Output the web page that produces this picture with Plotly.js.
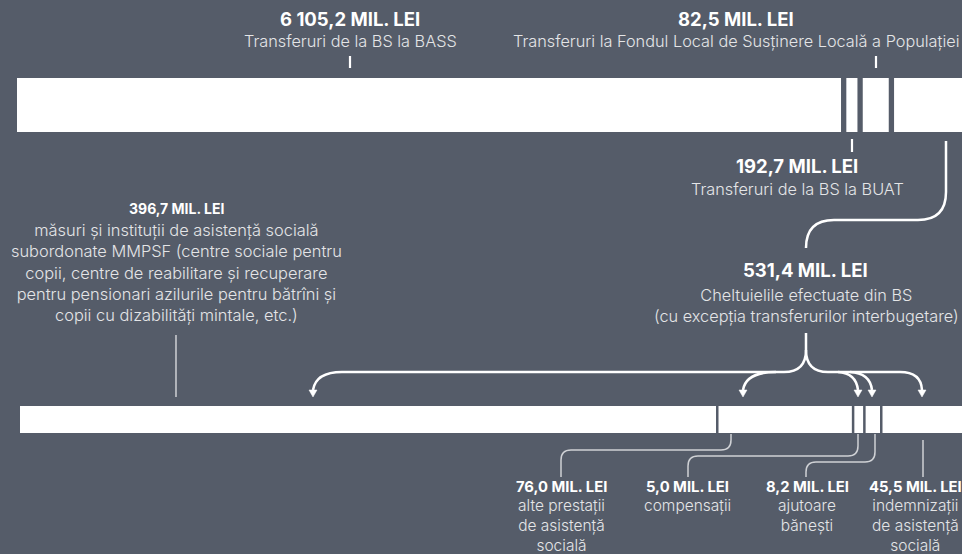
<!DOCTYPE html>
<html><head><meta charset="utf-8">
<script src="https://cdn.plot.ly/plotly-3.0.1.min.js"></script>
<style>html,body{margin:0;padding:0;background:#555c69;}#chart{width:962px;height:554px;}</style>
</head><body><div id="chart"></div>
<script>
// ---- data ----
const topCategories = ['Transferuri de la BS la BASS', 'Transferuri la Fondul Local de Susținere Locală a Populației', 'Transferuri de la BS la BUAT', 'Cheltuielile efectuate din BS'];
const topValues = [6105.2, 82.5, 192.7, 531.4];
const bottomCategories = ['măsuri și instituții de asistență socială', 'alte prestații de asistență socială', 'compensații', 'ajutoare bănești', 'indemnizații de asistență socială'];
const bottomValues = [396.7, 76.0, 5.0, 8.2, 45.5];
const bottomLabelLines = [
  'măsuri și instituții de asistență socială<br>subordonate MMPSF (centre sociale pentru<br>copii, centre de reabilitare și recuperare<br>pentru pensionari azilurile pentru bătrîni și<br>copii cu dizabilități mintale, etc.)',
  'alte prestații<br>de asistență<br>socială',
  'compensații',
  'ajutoare<br>bănești',
  'indemnizații<br>de asistență<br>socială'
];

// ---- style / layout constants ----
const W = 962, H = 554;
const BG = '#555c69';
const TXT = '#e4e5e7';
const LINE = '#cfd1d5';
const TOP_PX_PER_UNIT = 0.13497, TOP_START = 17, TOP_GAP_PX = 5.3;
const BOT_PX_PER_UNIT = 1.7545, BOT_START = 20, BOT_GAP_PX = 2.5;

function fmt(v) {
  const parts = v.toFixed(1).split('.');
  const int = parts[0].replace(/\B(?=(\d{3})+(?!\d))/g, ' ');
  return int + ',' + parts[1] + ' MIL. LEI';
}
function px(x) { return x / W; }
function py(y) { return 1 - y / H; }
function path(cmds) {
  return cmds.map(c => c[0] + ' ' + c.slice(1).reduce((a, v, i) => {
    if (i % 2 === 0) a.push(px(v).toFixed(5)); else a[a.length - 1] += ',' + py(v).toFixed(5);
    return a;
  }, []).join(' ')).join(' ');
}

// ---- bar traces ----
const traces = [];
function addBar(values, cats, xa, ya, gapUnits) {
  let base = 0;
  values.forEach((v, i) => {
    traces.push({
      type: 'bar', orientation: 'h', x: [v], base: [base], y: [0], width: [1],
      xaxis: xa, yaxis: ya, name: cats[i],
      marker: { color: '#ffffff', line: { width: 0 } },
      hoverinfo: 'skip', showlegend: false
    });
    base += v + gapUnits;
  });
}
addBar(topValues, topCategories, 'x', 'y', TOP_GAP_PX / TOP_PX_PER_UNIT);
addBar(bottomValues, bottomCategories, 'x2', 'y2', BOT_GAP_PX / BOT_PX_PER_UNIT);

// ---- annotations ----
const ann = [];
const FAM = 'Inter, Roboto, sans-serif';
function bold(text, x, y, size) {
  ann.push({ text: text, x: px(x), y: py(y), xref: 'paper', yref: 'paper', showarrow: false,
    xanchor: 'center', yanchor: 'middle', borderpad: 0, font: { family: FAM, size: size, color: '#ffffff', weight: 700 } });
}
function reg(text, x, y, size) {
  ann.push({ text: text, x: px(x), y: py(y), xref: 'paper', yref: 'paper', showarrow: false,
    xanchor: 'center', yanchor: 'middle', align: 'center', borderpad: 0,
    font: { family: FAM, size: size, color: TXT, weight: 300 } });
}
bold(fmt(topValues[0]), 350, 19, 18.5);
reg(topCategories[0], 350, 41, 16.3);
bold(fmt(topValues[1]), 736, 19, 18.5);
reg(topCategories[1], 736, 41, 16.3);
bold(fmt(topValues[2]), 797, 166, 18.5);
reg(topCategories[2], 797, 189, 16.3);
bold(fmt(topValues[3]), 805, 270, 18.5);
reg(topCategories[3] + '<br>(cu excepția transferurilor interbugetare)', 806, 305.5, 16.3);

bold(fmt(bottomValues[0]), 176, 208, 14);
reg(bottomLabelLines[0], 176, 272, 16.4);
const botX = [null, 561, 687, 807, 915];
const botLines = [null, 3, 1, 2, 3];
for (let i = 1; i < 5; i++) {
  bold(fmt(bottomValues[i]), botX[i], 487, 14.8);
  // first line centred near y=505, ~20px line spacing
  reg(bottomLabelLines[i], botX[i], 505 + (botLines[i] - 1) * 10, 15.5);
}

// ---- shapes ----
const shapes = [];
function line(d, color, w) {
  shapes.push({ type: 'path', xref: 'paper', yref: 'paper', path: d, line: { color: color, width: w } });
}
function arrowHead(x, y) {
  shapes.push({ type: 'path', xref: 'paper', yref: 'paper',
    path: path([['M', x - 4, y - 7], ['L', x + 4, y - 7], ['L', x, y], ['Z']]),
    fillcolor: '#ffffff', line: { color: '#ffffff', width: 0.5 } });
}
// tick marks near top bar
line(path([['M', 350, 56], ['L', 350, 68]]), '#ffffff', 2.2);
line(path([['M', 876, 56], ['L', 876, 68]]), '#ffffff', 2.2);
line(path([['M', 852, 139], ['L', 852, 152]]), '#ffffff', 2.2);
// S-curve to 531,4
line(path([['M', 946, 141], ['L', 946, 192], ['Q', 946, 220, 918, 220], ['L', 834, 220], ['Q', 806, 220, 806, 248]]), '#ffffff', 2.5);
// brace
line(path([['M', 806, 333], ['L', 806, 350], ['Q', 806, 372, 784, 372], ['L', 342, 372], ['Q', 316, 372, 313, 390]]), '#ffffff', 2.5);
line(path([['M', 806, 350], ['Q', 806, 372, 828, 372], ['L', 900, 372], ['Q', 921, 372, 922, 390]]), '#ffffff', 2.5);
line(path([['M', 776, 372], ['Q', 746, 372, 743, 390]]), '#ffffff', 2.5);
line(path([['M', 838, 372], ['Q', 856, 373, 858, 390]]), '#ffffff', 2.5);
line(path([['M', 850, 372], ['Q', 870, 373, 872, 390]]), '#ffffff', 2.5);
[313, 743, 858, 872, 922].forEach(x => arrowHead(x, 397));
// left vertical connector
line(path([['M', 176, 335], ['L', 176, 397]]), LINE, 1.5);
// bottom connectors
line(path([['M', 731, 434], ['L', 731, 440], ['Q', 731, 450, 721, 450], ['L', 571, 450], ['Q', 561, 450, 561, 460], ['L', 561, 477]]), LINE, 1.5);
line(path([['M', 858, 434], ['L', 858, 446], ['Q', 858, 456, 848, 456], ['L', 698, 456], ['Q', 688, 456, 688, 466], ['L', 688, 477]]), LINE, 1.5);
line(path([['M', 875, 434], ['L', 875, 452], ['Q', 875, 462, 865, 462], ['L', 816, 462], ['Q', 806, 462, 806, 472], ['L', 806, 477]]), LINE, 1.5);
line(path([['M', 923, 440], ['L', 923, 477]]), LINE, 1.5);

const layout = {
  width: W, height: H, margin: { l: 0, r: 0, t: 0, b: 0 },
  paper_bgcolor: BG, plot_bgcolor: 'rgba(0,0,0,0)',
  barmode: 'overlay', showlegend: false,
  xaxis: { visible: false, range: [-TOP_START / TOP_PX_PER_UNIT, (W - TOP_START) / TOP_PX_PER_UNIT], anchor: 'y', fixedrange: true },
  yaxis: { visible: false, range: [-0.5, 0.5], domain: [1 - 132 / H, 1 - 78 / H], anchor: 'x', fixedrange: true },
  xaxis2: { visible: false, range: [-BOT_START / BOT_PX_PER_UNIT, (W - BOT_START) / BOT_PX_PER_UNIT], anchor: 'y2', fixedrange: true },
  yaxis2: { visible: false, range: [-0.5, 0.5], domain: [1 - 433 / H, 1 - 406 / H], anchor: 'x2', fixedrange: true },
  annotations: ann, shapes: shapes
};
Plotly.newPlot('chart', traces, layout, { staticPlot: true, displayModeBar: false });
</script></body></html>
